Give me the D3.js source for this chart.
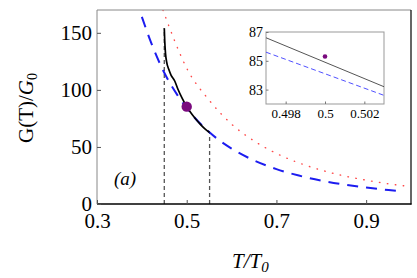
<!DOCTYPE html>
<html>
<head>
<meta charset="utf-8">
<script src="https://cdn.jsdelivr.net/npm/d3@7"></script>
<style>
    body { margin: 0; background: #fff; }
</style>
</head>
<body>
<script>
//data
var blueT = [0.40, 0.42, 0.45, 0.48, 0.50, 0.55, 0.60, 0.65, 0.70, 0.75, 0.80, 0.85, 0.90, 0.95, 0.97];
var blueG = [164, 142, 115, 95, 84, 63, 48.6, 38.2, 30.6, 24.9, 20.5, 17.1, 14.4, 12.2, 11.5];

var redT = [0.447, 0.47, 0.50, 0.55, 0.60, 0.65, 0.70, 0.75, 0.80, 0.85, 0.90, 0.95, 1.00];
var redG = [170, 146, 119, 91, 70, 55.3, 44.3, 36, 29.7, 24.7, 20.9, 17.7, 15.2];

var blackT = [0.450, 0.451, 0.4527, 0.455, 0.46, 0.465, 0.473, 0.48, 0.49, 0.50, 0.51, 0.52, 0.53, 0.54, 0.551];
var blackG = [154, 143, 132, 125, 118, 113, 108, 101, 92.5, 85.2, 79.5, 74.5, 70, 66, 62.6];

var pointT = 0.5, pointG = 85.3;
var boundsT = [0.45, 0.551];

var xTicks = [0.3, 0.5, 0.7, 0.9];
var yTicks = [0, 50, 100, 150];

//inset zoom around the point
var insetT = [0.497, 0.503];
var insetBlack = [86.6, 83.2];
var insetBlue = [85.6, 82.6];
var insetXTicks = [0.498, 0.5, 0.502];
var insetYTicks = [83, 85, 87];

var serif = "'Liberation Serif', 'Times New Roman', serif";

window.onload = setChart();

function setChart(){

    var width = 417,
        height = 278;

    var svg = d3.select("body")
        .append("svg")
        .attr("width", width)
        .attr("height", height);

    var x = d3.scaleLinear().domain([0.3, 1.0]).range([97, 411]);
    var y = d3.scaleLinear().domain([0, 170]).range([204, 10]);

    svg.append("clipPath").attr("id", "plotclip")
        .append("rect")
        .attr("x", 97).attr("y", 10)
        .attr("width", 314).attr("height", 194);

    var line = d3.line()
        .x(function(d){ return x(d[0]); })
        .y(function(d){ return y(d[1]); })
        .curve(d3.curveMonotoneX);

    var plot = svg.append("g").attr("clip-path", "url(#plotclip)");

    //vertical dashed markers down to the axis
    var blackEnds = [blackG[0], blackG[blackG.length - 1]];
    plot.selectAll(".vmark")
        .data(boundsT)
        .enter()
        .append("line")
        .attr("class", "vmark")
        .attr("x1", function(d){ return x(d); })
        .attr("x2", function(d){ return x(d); })
        .attr("y1", y(0))
        .attr("y2", function(d, i){ return y(blackEnds[i]); })
        .attr("stroke", "#555")
        .attr("stroke-width", 1.3)
        .attr("stroke-dasharray", "4,3");

    //red dotted curve
    plot.append("path")
        .datum(d3.zip(redT, redG))
        .attr("d", line)
        .attr("fill", "none")
        .attr("stroke", "#ff4a4a")
        .attr("stroke-width", 1.4)
        .attr("stroke-linecap", "round")
        .attr("stroke-dasharray", "0.5,7.5");

    //blue dashed curve
    plot.append("path")
        .datum(d3.zip(blueT, blueG))
        .attr("d", line)
        .attr("fill", "none")
        .attr("stroke", "#1c1cf0")
        .attr("stroke-width", 2)
        .attr("stroke-dasharray", "11,8");

    //black solid curve
    plot.append("path")
        .datum(d3.zip(blackT, blackG))
        .attr("d", line)
        .attr("fill", "none")
        .attr("stroke", "#000")
        .attr("stroke-width", 1.7);

    plot.append("circle")
        .attr("cx", x(pointT))
        .attr("cy", y(pointG))
        .attr("r", 5.2)
        .attr("fill", "#7a0a7e");

    //frame
    svg.append("line").attr("x1", 97).attr("x2", 411).attr("y1", 10).attr("y2", 10)
        .attr("stroke", "#888").attr("stroke-width", 1);
    svg.append("line").attr("x1", 97).attr("x2", 97).attr("y1", 10).attr("y2", 204)
        .attr("stroke", "#888").attr("stroke-width", 1);
    svg.append("line").attr("x1", 411).attr("x2", 411).attr("y1", 10).attr("y2", 204.5)
        .attr("stroke", "#000").attr("stroke-width", 1.2);
    svg.append("line").attr("x1", 97).attr("x2", 411.5).attr("y1", 204).attr("y2", 204)
        .attr("stroke", "#000").attr("stroke-width", 1.6);

    //axes with ticks pointing inward
    var xAxis = svg.append("g")
        .attr("transform", "translate(0,204)")
        .call(d3.axisBottom(x).tickValues(xTicks).tickSize(-4).tickFormat(d3.format(".1f")));
    xAxis.select(".domain").remove();
    xAxis.selectAll(".tick line").attr("stroke", "#555");
    xAxis.selectAll(".tick text")
        .style("font-family", serif)
        .style("font-size", "21px")
        .attr("y", 9)
        .attr("dy", "0.71em");

    var yAxis = svg.append("g")
        .attr("transform", "translate(97,0)")
        .call(d3.axisLeft(y).tickValues(yTicks).tickSize(-4));
    yAxis.select(".domain").remove();
    yAxis.selectAll(".tick line").attr("stroke", "#555");
    yAxis.selectAll(".tick text")
        .style("font-family", serif)
        .style("font-size", "21px")
        .attr("x", -5);

    //axis labels
    var yl = svg.append("text")
        .attr("transform", "translate(33,108) rotate(-90)")
        .attr("text-anchor", "middle")
        .style("font-family", serif)
        .style("font-size", "21px");
    yl.append("tspan").text("G(T)/");
    yl.append("tspan").style("font-style", "italic").text("G");
    yl.append("tspan").style("font-size", "14px").attr("dy", 4).text("0");

    var xl = svg.append("text")
        .attr("x", 232)
        .attr("y", 268)
        .style("font-family", serif)
        .style("font-size", "21px")
        .style("font-style", "italic");
    xl.append("tspan").text("T/T");
    xl.append("tspan").style("font-size", "15px").attr("dy", 4).text("0");

    svg.append("text")
        .attr("x", 125)
        .attr("y", 185)
        .attr("text-anchor", "middle")
        .style("font-family", serif)
        .style("font-size", "19px")
        .style("font-style", "italic")
        .text("(a)");

    //inset
    var ix = d3.scaleLinear().domain(insetT).range([266, 384]);
    var iy = d3.scaleLinear().domain([82, 87]).range([104, 32]);

    var inset = svg.append("g");

    inset.append("rect")
        .attr("x", 266).attr("y", 32)
        .attr("width", 118).attr("height", 72)
        .attr("fill", "#fff")
        .attr("stroke", "#999")
        .attr("stroke-width", 1);

    var iline = d3.line()
        .x(function(d){ return ix(d[0]); })
        .y(function(d){ return iy(d[1]); });

    inset.append("path")
        .datum(d3.zip(insetT, insetBlue))
        .attr("d", iline)
        .attr("fill", "none")
        .attr("stroke", "#5050ff")
        .attr("stroke-width", 1)
        .attr("stroke-dasharray", "5,3");

    inset.append("path")
        .datum(d3.zip(insetT, insetBlack))
        .attr("d", iline)
        .attr("fill", "none")
        .attr("stroke", "#555")
        .attr("stroke-width", 1);

    inset.append("circle")
        .attr("cx", ix(pointT))
        .attr("cy", iy(pointG))
        .attr("r", 2.3)
        .attr("fill", "#7a0a7e");

    var ixAxis = inset.append("g")
        .attr("transform", "translate(0,104)")
        .call(d3.axisBottom(ix).tickValues(insetXTicks).tickSize(-2.5).tickFormat(d3.format("")));
    ixAxis.select(".domain").remove();
    ixAxis.selectAll(".tick line").attr("stroke", "#777");
    ixAxis.selectAll(".tick text")
        .style("font-family", serif)
        .style("font-size", "13px")
        .attr("y", 5)
        .attr("dy", "0.71em");

    var iyAxis = inset.append("g")
        .attr("transform", "translate(266,0)")
        .call(d3.axisLeft(iy).tickValues(insetYTicks).tickSize(-2.5).tickFormat(d3.format("d")));
    iyAxis.select(".domain").remove();
    iyAxis.selectAll(".tick line").attr("stroke", "#777");
    iyAxis.selectAll(".tick text")
        .style("font-family", serif)
        .style("font-size", "14px")
        .attr("x", -3);
}
</script>
</body>
</html>
